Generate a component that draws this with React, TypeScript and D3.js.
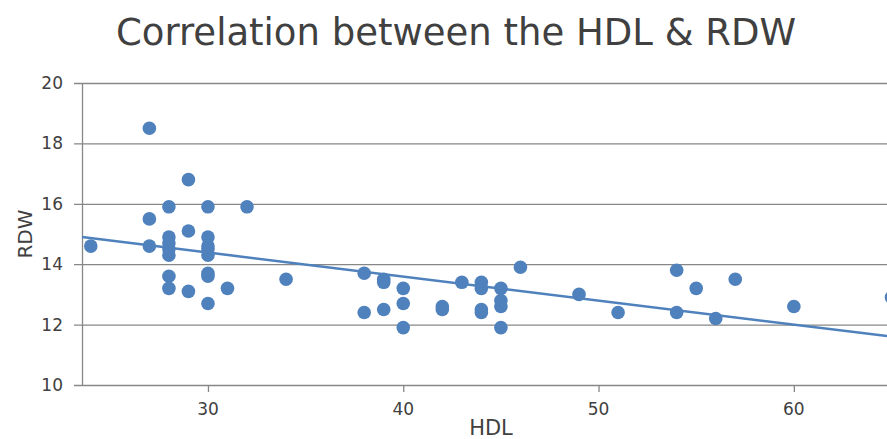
import React, { useEffect, useRef } from 'react';
import * as d3 from 'd3';

// HDL (x) and RDW (y) pairs
const hdl = [
  24, 27, 27, 27, 28, 28, 28, 28, 28, 28, 28,
  29, 29, 29, 30, 30, 30, 30, 30, 30, 30, 30, 31, 32, 34,
  38, 38, 39, 39, 39, 40, 40, 40, 42, 42, 43,
  44, 44, 44, 44, 45, 45, 45, 45, 46, 49, 51,
  54, 54, 55, 56, 57, 60, 65
];
const rdw = [
  14.6, 18.5, 15.5, 14.6, 15.9, 14.9, 14.7, 14.5, 14.3, 13.6, 13.2,
  16.8, 15.1, 13.1, 15.9, 14.9, 14.6, 14.5, 14.3, 13.7, 13.6, 12.7, 13.2, 15.9, 13.5,
  13.7, 12.4, 13.5, 13.4, 12.5, 13.2, 12.7, 11.9, 12.6, 12.5, 13.4,
  13.4, 13.2, 12.5, 12.4, 13.2, 12.8, 12.6, 11.9, 13.9, 13.0, 12.4,
  13.8, 12.4, 13.2, 12.2, 13.5, 12.6, 12.9
];
// linear trend line ends
const trendHdl = [23.55, 64.77];
const trendRdw = [14.9, 11.62];

const yTicks = [10, 12, 14, 16, 18, 20];
const xTicks = [30, 40, 50, 60];

const W = 887;
const H = 439;
const margin = { top: 83, right: 0, bottom: 54, left: 82 };
const blue = '#4f81bd';
const grid = '#878787';
const textColor = '#404040';
const font = '"DejaVu Sans", Verdana, sans-serif';

const Chart = () => {
  const ref = useRef<SVGSVGElement | null>(null);

  useEffect(() => {
    if (!ref.current) return;
    const svg = d3.select(ref.current);
    svg.selectAll('*').remove();

    const x = d3.scaleLinear().domain([23.55, 64.77]).range([margin.left, W - margin.right]);
    const y = d3.scaleLinear().domain([10, 20]).range([H - margin.bottom, margin.top]);

    const pts = hdl.map((h, i) => ({ h, r: rdw[i] }));

    // title
    svg.append('text')
      .attr('x', 456)
      .attr('y', 45)
      .attr('text-anchor', 'middle')
      .style('font-family', font)
      .style('font-size', '37px')
      .style('fill', textColor)
      .text('Correlation between the HDL & RDW');

    // horizontal grid
    svg.append('g')
      .selectAll('line')
      .data(yTicks)
      .enter().append('line')
      .attr('x1', margin.left - 8)
      .attr('x2', W)
      .attr('y1', d => y(d) + 0.5)
      .attr('y2', d => y(d) + 0.5)
      .style('stroke', grid)
      .style('stroke-width', 1.3);

    // y axis line
    svg.append('line')
      .attr('x1', margin.left + 0.5).attr('x2', margin.left + 0.5)
      .attr('y1', y(20)).attr('y2', y(10))
      .style('stroke', grid)
      .style('stroke-width', 1.3);

    svg.append('g')
      .selectAll('text')
      .data(yTicks)
      .enter().append('text')
      .attr('x', margin.left - 19)
      .attr('y', d => y(d))
      .attr('dy', '0.35em')
      .attr('text-anchor', 'end')
      .style('font-family', font)
      .style('font-size', '17px')
      .style('fill', textColor)
      .text(d => d);

    // x ticks
    svg.append('g')
      .selectAll('line')
      .data(xTicks)
      .enter().append('line')
      .attr('x1', d => x(d) + 0.5)
      .attr('x2', d => x(d) + 0.5)
      .attr('y1', y(10))
      .attr('y2', y(10) + 7)
      .style('stroke', grid)
      .style('stroke-width', 1.3);

    svg.append('g')
      .selectAll('text')
      .data(xTicks)
      .enter().append('text')
      .attr('x', d => x(d))
      .attr('y', y(10) + 30)
      .attr('text-anchor', 'middle')
      .style('font-family', font)
      .style('font-size', '17px')
      .style('fill', textColor)
      .text(d => d);

    // axis titles
    svg.append('text')
      .attr('x', 491)
      .attr('y', 435)
      .attr('text-anchor', 'middle')
      .style('font-family', font)
      .style('font-size', '21px')
      .style('fill', textColor)
      .text('HDL');

    svg.append('text')
      .attr('transform', `translate(32,${(y(10) + y(20)) / 2}) rotate(-90)`)
      .attr('text-anchor', 'middle')
      .style('font-family', font)
      .style('font-size', '20px')
      .style('fill', textColor)
      .text('RDW');

    // points
    svg.append('g')
      .selectAll('circle')
      .data(pts)
      .enter().append('circle')
      .attr('cx', d => x(d.h))
      .attr('cy', d => y(d.r))
      .attr('r', 6.8)
      .style('fill', blue);

    // trend
    const line = d3.line<number>()
      .x(d => x(trendHdl[d]))
      .y(d => y(trendRdw[d]));
    svg.append('path')
      .attr('d', line([0, 1]))
      .style('fill', 'none')
      .style('stroke', blue)
      .style('stroke-width', 2.5);
  }, []);

  return <svg ref={ref} width={W} height={H} style={{ display: 'block' }} />;
};

export default function App() {
  return (
    <div style={{ position: 'absolute', left: 0, top: 0, background: '#fff' }}>
      <Chart />
    </div>
  );
}
